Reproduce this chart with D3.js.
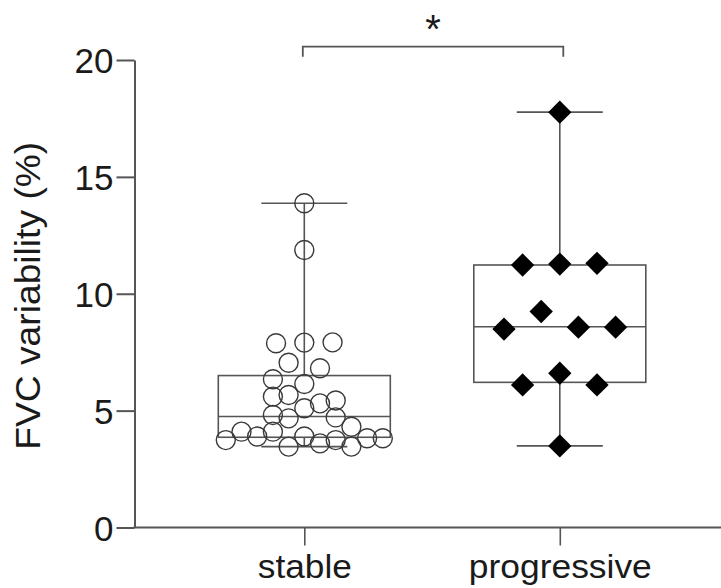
<!DOCTYPE html>
<html><head><meta charset="utf-8">
<script src="https://cdn.jsdelivr.net/npm/d3@7"></script>
<style>
html,body{margin:0;padding:0;background:#fff;}
svg{display:block;font-family:"Liberation Sans",Arial,Helvetica,sans-serif;}
</style></head>
<body>
<svg id="chart" width="721" height="588"></svg>
<script>
// ---------- data ----------
const categories = ["stable", "progressive"];
const yTicks = [0, 5, 10, 15, 20];
const yLabel = "FVC variability (%)";
const significance = "*";

// stable group: values and horizontal scatter column (in marker widths)
const stableValues = [13.87, 11.87, 7.88, 7.91, 7.92, 7.05, 6.81, 6.34, 6.14, 5.60, 5.67,
  5.10, 5.31, 5.43, 4.81, 4.67, 4.71, 4.31, 4.10, 4.10,
  3.74, 3.89, 3.46, 3.89, 3.60, 3.74, 3.46, 3.82, 3.82];
const stableColumns = [0, 0, -1.8, 0, 1.8, -1, 1, -2, 0, -2, -1,
  0, 1, 2, -2, -1, 2, 3, -4, -2,
  -5, -3, -1, 0, 1, 2, 3, 4, 5];
// box: min, Q1, median, Q3, max
const stableBox = [3.46, 3.86, 4.75, 6.50, 13.87];

const progressiveValues = [17.77, 11.23, 11.27, 11.30, 8.49, 9.24, 8.57, 8.57, 6.10, 6.60, 6.10, 3.49];
const progressiveColumns = [0, -2, 0, 2, -3, -1, 1, 3, -2, 0, 2, 0];
const progressiveBox = [3.49, 6.21, 8.59, 11.23, 17.77];

// ---------- layout ----------
const svg = d3.select("#chart");
const axisX = 134.5, axisY = 527.5, topY = 60;
const y = d3.scaleLinear().domain([0, 20]).range([axisY, topY]);
const x = d3.scalePoint().domain(categories).range([304.3, 559.8]);
const lineColor = "#555";

// y axis
const gy = svg.append("g").attr("transform", `translate(${axisX},0)`)
  .call(d3.axisLeft(y).tickValues(yTicks).tickFormat(d3.format("d")).tickSize(18).tickSizeOuter(0).tickPadding(3));
gy.select(".domain").attr("stroke", lineColor).attr("stroke-width", 2);
gy.selectAll(".tick line").attr("stroke", lineColor).attr("stroke-width", 2);
gy.selectAll(".tick text").attr("font-size", 35).attr("fill", "#1a1a1a").attr("font-family", "Liberation Sans, Arial, sans-serif").attr("dy", "0.36em");

// x axis
svg.append("line").attr("x1", axisX - 1).attr("x2", 721).attr("y1", axisY).attr("y2", axisY)
  .attr("stroke", lineColor).attr("stroke-width", 2);
const gx = svg.append("g").attr("transform", `translate(0,${axisY})`)
  .call(d3.axisBottom(x).tickSize(18).tickSizeOuter(0).tickPadding(9));
gx.select(".domain").remove();
gx.selectAll(".tick line").attr("stroke", lineColor).attr("stroke-width", 1.6);
const xLabelWidths = {stable: 94, progressive: 183};
gx.selectAll(".tick text").attr("font-size", 33).attr("fill", "#1a1a1a")
  .attr("font-family", "Liberation Sans, Arial, sans-serif")
  .attr("textLength", d => xLabelWidths[d]).attr("lengthAdjust", "spacingAndGlyphs");

// y label
svg.append("text")
  .attr("transform", `translate(40,${(y(0) + y(20)) / 2 + 2}) rotate(-90)`)
  .attr("text-anchor", "middle").attr("font-size", 35).attr("fill", "#1a1a1a")
  .attr("textLength", 308).attr("lengthAdjust", "spacingAndGlyphs")
  .text(yLabel);

// box plots
function drawBox(cat, box) {
  const cx = x(cat), bw = 172, cw = 86;
  const g = svg.append("g").attr("stroke", lineColor).attr("stroke-width", 1.6).attr("fill", "none");
  const [mn, q1, md, q3, mx] = box;
  g.append("rect").attr("x", cx - bw / 2).attr("width", bw).attr("y", y(q3)).attr("height", y(q1) - y(q3));
  g.append("line").attr("x1", cx - bw / 2).attr("x2", cx + bw / 2).attr("y1", y(md)).attr("y2", y(md));
  g.append("line").attr("x1", cx).attr("x2", cx).attr("y1", y(q3)).attr("y2", y(mx));
  g.append("line").attr("x1", cx).attr("x2", cx).attr("y1", y(q1)).attr("y2", y(mn));
  g.append("line").attr("x1", cx - cw / 2).attr("x2", cx + cw / 2).attr("y1", y(mx)).attr("y2", y(mx));
  g.append("line").attr("x1", cx - cw / 2).attr("x2", cx + cw / 2).attr("y1", y(mn)).attr("y2", y(mn));
}
drawBox("stable", stableBox);
drawBox("progressive", progressiveBox);

// points
const stableStep = 15.7, progStep = 18.6;
svg.append("g").selectAll("circle").data(stableValues).join("circle")
  .attr("cx", (d, i) => x("stable") + stableColumns[i] * stableStep)
  .attr("cy", d => y(d)).attr("r", 9.5)
  .attr("fill", "none").attr("stroke", "#3a3a3a").attr("stroke-width", 1.4);

const diamond = d3.symbol().type(d3.symbolSquare).size(272);
svg.append("g").selectAll("path").data(progressiveValues).join("path")
  .attr("d", diamond)
  .attr("transform", (d, i) => `translate(${x("progressive") + progressiveColumns[i] * progStep},${y(d)}) rotate(45)`)
  .attr("fill", "#000");

// significance bracket
const by = 46.7, bdrop = 10;
svg.append("path")
  .attr("d", `M${x("stable") - 1.5},${by + bdrop}V${by}H${x("progressive") + 3.5}V${by + bdrop}`)
  .attr("fill", "none").attr("stroke", lineColor).attr("stroke-width", 1.8);
svg.append("text").attr("x", (x("stable") + x("progressive")) / 2 + 1).attr("y", 43)
  .attr("text-anchor", "middle").attr("font-size", 40).attr("fill", "#1a1a1a").text(significance);
</script>
</body></html>
